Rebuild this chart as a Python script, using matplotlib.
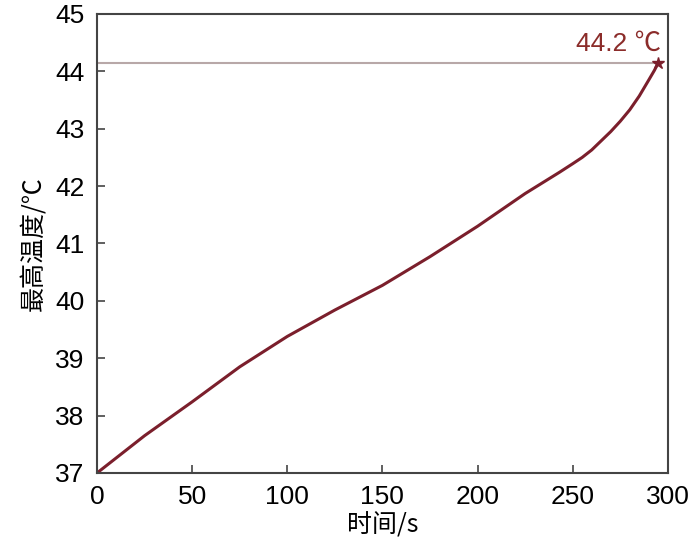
import matplotlib
matplotlib.use("Agg")
import matplotlib.pyplot as plt

plt.rcParams["font.family"] = ["Liberation Sans", "Noto Sans CJK SC", "DejaVu Sans"]

# time (s) and max temperature (°C)
time_s = [0, 25, 50, 75, 100, 125, 150, 175, 200, 225, 243, 250, 255, 260, 265, 270,
          275, 280, 285, 290, 293, 295]
temp_c = [37.0, 37.65, 38.24, 38.85, 39.38, 39.84, 40.27, 40.77, 41.3, 41.87, 42.24,
          42.39, 42.5, 42.63, 42.79, 42.95, 43.13, 43.33, 43.57, 43.85, 44.02, 44.15]
peak_label = "44.2 ℃"
x_ticks = [0, 50, 100, 150, 200, 250, 300]
y_ticks = [37, 38, 39, 40, 41, 42, 43, 44, 45]

curve_color = "#7b1f2c"
text_color = "#8b2c2a"
cjk = ["Noto Sans CJK SC", "Liberation Sans"]

fig = plt.figure(figsize=(7, 5.53), dpi=100)
ax = fig.add_axes([0.1386, 0.1447, 0.8154, 0.83])

ax.axhline(temp_c[-1], xmin=0, xmax=time_s[-1] / 300, color="#b8a8a8", lw=1.5, zorder=1)
ax.plot(time_s, temp_c, color=curve_color, lw=2.2, zorder=2, solid_joinstyle="round")
ax.plot(time_s[-1], temp_c[-1], marker="*", color=curve_color, ms=9, zorder=3)
ax.text(time_s[-1] + 1.5, 44.36, peak_label, color=text_color, fontsize=19,
        ha="right", va="baseline", family=["Liberation Sans", "Noto Sans CJK SC"])

ax.set_xlim(0, 300)
ax.set_ylim(37, 45)
ax.set_xticks(x_ticks)
ax.set_yticks(y_ticks)
ax.tick_params(direction="in", length=6, width=1.2, labelsize=19, color="#444444",
               top=False, right=False, pad=9)
for s in ax.spines.values():
    s.set_color("#444444")
    s.set_linewidth(1.5)

ax.set_xlabel("时间/s", fontsize=18, family=cjk, labelpad=2)
ax.set_ylabel("最高温度/℃", fontsize=18, family=cjk, labelpad=6)

fig.savefig("out.png", dpi=100)
